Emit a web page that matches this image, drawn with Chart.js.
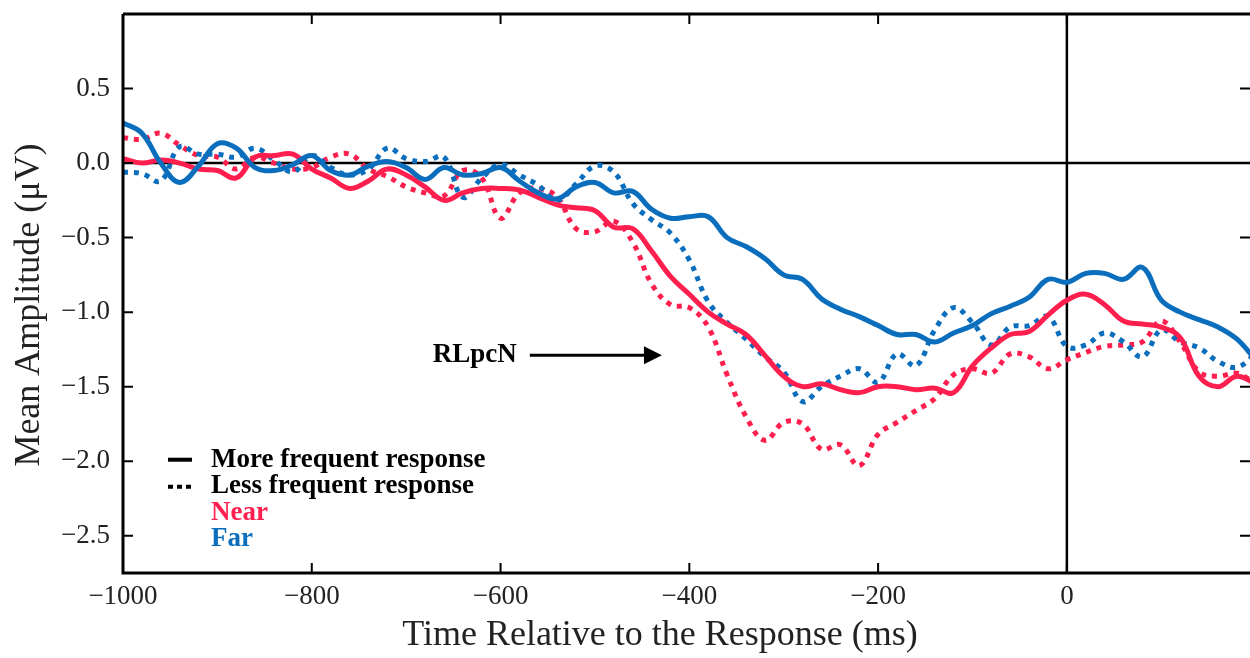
<!DOCTYPE html>
<html>
<head>
<meta charset="utf-8">
<script src="https://cdn.jsdelivr.net/npm/chart.js@4/dist/chart.umd.min.js"></script>
<style>
  body { margin: 0; background: #fff; }
  #wrap { width: 1250px; height: 658px; }
</style>
</head>
<body>
<div id="wrap"><canvas id="c" width="1250" height="658"></canvas></div>
<script>
// time axis (ms relative to response)
const times = [-1000, -980, -960, -940, -920, -900, -880, -860, -840, -820,
    -800, -780, -760, -740, -720, -700, -680, -660, -640, -620,
    -600, -580, -560, -540, -520, -500, -480, -460, -440, -420,
    -400, -380, -360, -340, -320, -300, -280, -260, -240, -220,
    -200, -180, -160, -140, -120, -100, -80, -60, -40, -20,
    0, 20, 40, 60, 80, 100, 120, 140, 160, 180, 200];

// Near, more frequent response (solid red)
const nearMore = [0.03, 0.0, 0.02, 0.0, -0.04, -0.05, -0.1, 0.04, 0.05, 0.06,
    -0.04, -0.1, -0.17, -0.12, -0.04, -0.08, -0.16, -0.25, -0.2, -0.17,
    -0.17, -0.18, -0.23, -0.28, -0.3, -0.32, -0.43, -0.44, -0.59, -0.76,
    -0.88, -1.0, -1.08, -1.15, -1.29, -1.43, -1.5, -1.48, -1.52, -1.54,
    -1.5, -1.5, -1.52, -1.51, -1.54, -1.36, -1.24, -1.15, -1.13, -1.02,
    -0.92, -0.88, -0.95, -1.06, -1.08, -1.1, -1.17, -1.43, -1.5, -1.43, -1.48];

// Near, less frequent response (dotted red)
const nearLess = [0.17, 0.16, 0.2, 0.12, 0.05, 0.04, -0.04, 0.04, 0.0, -0.04,
    -0.03, 0.04, 0.06, -0.04, -0.09, -0.16, -0.2, -0.22, -0.05, -0.1,
    -0.37, -0.2, -0.17, -0.23, -0.44, -0.46, -0.39, -0.53, -0.81, -0.95,
    -0.97, -1.1, -1.42, -1.7, -1.86, -1.74, -1.75, -1.92, -1.89, -2.03,
    -1.82, -1.74, -1.66, -1.58, -1.42, -1.38, -1.41, -1.28, -1.3, -1.38,
    -1.32, -1.27, -1.23, -1.22, -1.2, -1.06, -1.2, -1.4, -1.43, -1.41, -1.48];

// Far, more frequent response (solid blue)
const farMore = [0.27, 0.2, 0.0, -0.13, -0.02, 0.13, 0.1, -0.03, -0.05, -0.01,
    0.05, -0.05, -0.08, -0.02, 0.01, -0.03, -0.11, -0.03, -0.08, -0.07,
    -0.03, -0.12, -0.2, -0.24, -0.16, -0.13, -0.2, -0.19, -0.31, -0.37,
    -0.36, -0.36, -0.5, -0.56, -0.64, -0.75, -0.78, -0.91, -0.98, -1.03,
    -1.09, -1.15, -1.15, -1.2, -1.14, -1.09, -1.01, -0.96, -0.9, -0.78,
    -0.8, -0.74, -0.74, -0.78, -0.7, -0.92, -1.0, -1.05, -1.1, -1.18, -1.32];

// Far, less frequent response (dotted blue)
const farLess = [-0.06, -0.07, -0.12, 0.11, 0.06, 0.06, 0.04, 0.1, 0.02, -0.06,
    0.05, -0.03, -0.08, -0.04, 0.1, 0.03, 0.01, 0.04, -0.23, -0.1,
    -0.01, -0.08, -0.15, -0.25, -0.14, -0.02, -0.06, -0.27, -0.38, -0.47,
    -0.65, -0.93, -1.07, -1.18, -1.3, -1.4, -1.6, -1.5, -1.43, -1.38,
    -1.47, -1.28, -1.36, -1.12, -0.97, -1.07, -1.22, -1.1, -1.09, -1.03,
    -1.23, -1.22, -1.14, -1.2, -1.3, -1.12, -1.2, -1.24, -1.33, -1.37, -1.28];

const xTicks = [-1000, -800, -600, -400, -200, 0];
const yTicks = [-2.5, -2.0, -1.5, -1.0, -0.5, 0.0, 0.5];

const xTitle = 'Time Relative to the Response (ms)';
const yTitle = 'Mean Amplitude (\u03bcV)';

const legendRows = ['More frequent response', 'Less frequent response'];
const groupNames = ['Near', 'Far'];

// annotation arrow, in data units
const arrowLabel = 'RLpcN';
const arrowFrom = -569, arrowTo = -429, arrowY = -1.29;

const RED = '#ff1f4f';
const BLUE = '#0a6ebd';
const SERIF = '"Liberation Serif", "DejaVu Serif", serif';

function minus(s) {
    return s.replace('-', '\u2212');
}

function series(data, color, dotted) {
    return {
        data: times.map((t, i) => ({ x: t, y: data[i] })),
        borderColor: color,
        borderWidth: 5,
        borderDash: dotted ? [5, 6] : [],
        borderCapStyle: 'butt',
        pointRadius: 0,
        tension: 0.4,
        fill: false
    };
}

const framePlugin = {
    id: 'frame',
    beforeDatasetsDraw(chart) {
        const { ctx, chartArea: a, scales: { x, y } } = chart;
        ctx.save();
        ctx.strokeStyle = '#000';
        ctx.lineWidth = 2.5;
        const x0 = x.getPixelForValue(0);
        const y0 = y.getPixelForValue(0);
        ctx.beginPath();
        ctx.moveTo(a.left, y0);
        ctx.lineTo(a.right, y0);
        ctx.moveTo(x0, a.top);
        ctx.lineTo(x0, a.bottom);
        ctx.stroke();
        ctx.restore();
    },
    afterDraw(chart) {
        const { ctx, chartArea: a, scales: { x, y } } = chart;
        ctx.save();
        ctx.strokeStyle = '#000';
        ctx.lineWidth = 3;
        ctx.beginPath();
        ctx.moveTo(a.left, a.top);
        ctx.lineTo(a.right + 2, a.top);
        ctx.moveTo(a.left, a.top);
        ctx.lineTo(a.left, a.bottom);
        ctx.lineTo(a.right + 2, a.bottom);
        ctx.stroke();

        // inward ticks on all four sides
        ctx.lineWidth = 2;
        ctx.beginPath();
        xTicks.forEach(v => {
            const px = x.getPixelForValue(v);
            ctx.moveTo(px, a.bottom);
            ctx.lineTo(px, a.bottom - 10);
            ctx.moveTo(px, a.top);
            ctx.lineTo(px, a.top + 10);
        });
        yTicks.forEach(v => {
            const py = y.getPixelForValue(v);
            ctx.moveTo(a.left, py);
            ctx.lineTo(a.left + 10, py);
            ctx.moveTo(a.right, py);
            ctx.lineTo(a.right - 10, py);
        });
        ctx.stroke();

        // axis titles (sit a little off-centre in the original)
        ctx.fillStyle = '#222';
        ctx.font = '36px ' + SERIF;
        ctx.textAlign = 'center';
        ctx.textBaseline = 'middle';
        ctx.fillText(xTitle, 660, 636);
        ctx.save();
        ctx.translate(30, 305);
        ctx.rotate(-Math.PI / 2);
        ctx.fillText(yTitle, 0, 0);
        ctx.restore();

        // legend
        const lx = a.left + 45;
        const ly = y.getPixelForValue(-1.99);
        ctx.lineWidth = 4;
        ctx.beginPath();
        ctx.moveTo(lx, ly);
        ctx.lineTo(lx + 24, ly);
        ctx.stroke();
        ctx.setLineDash([5, 4]);
        ctx.beginPath();
        ctx.moveTo(lx, ly + 27);
        ctx.lineTo(lx + 24, ly + 27);
        ctx.stroke();
        ctx.setLineDash([]);

        ctx.font = 'bold 27px ' + SERIF;
        ctx.textBaseline = 'middle';
        ctx.textAlign = 'left';
        ctx.fillStyle = '#000';
        legendRows.forEach((t, i) => ctx.fillText(t, lx + 43, ly + i * 26.5));
        ctx.fillStyle = RED;
        ctx.fillText(groupNames[0], lx + 43, ly + 53);
        ctx.fillStyle = BLUE;
        ctx.fillText(groupNames[1], lx + 43, ly + 79.5);

        // RLpcN arrow
        const ax0 = x.getPixelForValue(arrowFrom);
        const ax1 = x.getPixelForValue(arrowTo);
        const ay = y.getPixelForValue(arrowY);
        ctx.fillStyle = '#000';
        ctx.textAlign = 'right';
        ctx.fillText(arrowLabel, ax0 - 13, ay);
        ctx.lineWidth = 3;
        ctx.beginPath();
        ctx.moveTo(ax0, ay);
        ctx.lineTo(ax1 - 16, ay);
        ctx.stroke();
        ctx.beginPath();
        ctx.moveTo(ax1, ay);
        ctx.lineTo(ax1 - 18, ay - 9);
        ctx.lineTo(ax1 - 18, ay + 9);
        ctx.closePath();
        ctx.fill();
        ctx.restore();
    }
};

new Chart(document.getElementById('c'), {
    type: 'line',
    data: {
        datasets: [
            series(farMore, BLUE, false),
            series(nearMore, RED, false),
            series(farLess, BLUE, true),
            series(nearLess, RED, true)
        ]
    },
    options: {
        responsive: false,
        animation: false,
        layout: { padding: { top: 14, right: 0, left: 0, bottom: 0 } },
        plugins: { legend: { display: false }, tooltip: { enabled: false } },
        scales: {
            x: {
                type: 'linear',
                min: -1000,
                max: 194,
                afterBuildTicks: s => { s.ticks = xTicks.map(v => ({ value: v })); },
                afterFit: s => { s.height = 85; s.paddingLeft = 0; s.paddingRight = 0; },
                grid: { display: false, drawTicks: false },
                border: { display: false },
                ticks: {
                    padding: 8,
                    color: '#222',
                    maxRotation: 0,
                    font: { family: SERIF, size: 27 },
                    callback: v => minus(String(v))
                }
            },
            y: {
                min: -2.75,
                max: 1.0,
                afterBuildTicks: s => { s.ticks = yTicks.map(v => ({ value: v })); },
                afterFit: s => { s.width = 123; s.paddingTop = 0; s.paddingBottom = 0; },
                grid: { display: false, drawTicks: false },
                border: { display: false },
                ticks: {
                    padding: 13,
                    color: '#222',
                    font: { family: SERIF, size: 27 },
                    callback: v => minus(v.toFixed(1))
                }
            }
        }
    },
    plugins: [framePlugin]
});
</script>
</body>
</html>
